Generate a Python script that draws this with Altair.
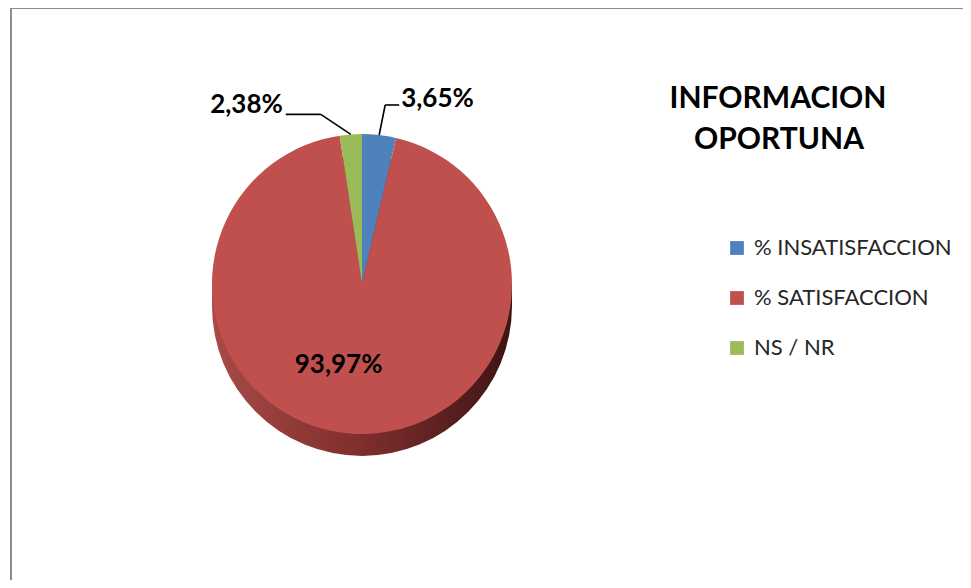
import altair as alt
import pandas as pd

# ---- data ----
categories = ["% INSATISFACCION", "% SATISFACCION", "NS / NR"]
values = [3.65, 93.97, 2.38]
labels = ["3,65%", "93,97%", "2,38%"]
slice_order = [0, 1, 2]
colors = ["#4F81BD", "#C0504D", "#9BBB59"]
title_lines = ["INFORMACION", "OPORTUNA"]

df = pd.DataFrame({"cat": categories, "val": values, "label": labels, "order": slice_order})
one = pd.DataFrame({"k": [0]})

W, H = 955, 572
CX, CY, R, DEPTH = 354, 276, 150, 22
FONT = "Lato"

theta_scale = alt.Scale(domain=[0, 100])

side_grad = alt.Gradient(
    gradient="linear",
    stops=[
        alt.GradientStop(color="#a84a48", offset=0),
        alt.GradientStop(color="#7d2e2d", offset=0.5),
        alt.GradientStop(color="#3f1414", offset=1),
    ],
    x1=0, x2=1, y1=0, y2=0,
)

# pie thickness (side)
side_rect = alt.Chart(one).mark_rect(fill=side_grad).encode(
    x=alt.value(CX - R), x2=alt.value(CX + R),
    y=alt.value(CY), y2=alt.value(CY + DEPTH),
)
side_disc = alt.Chart(one).mark_arc(fill=side_grad, radius=R, theta=0, theta2=6.2832).encode(
    x=alt.value(CX), y=alt.value(CY + DEPTH),
)

pie = alt.Chart(df).mark_arc(radius=R).encode(
    theta=alt.Theta("val:Q", stack=True, scale=theta_scale),
    order=alt.Order("order:Q"),
    color=alt.Color(
        "cat:N",
        scale=alt.Scale(domain=categories, range=colors),
        legend=alt.Legend(
            title=None, orient="none", legendX=718, legendY=229,
            symbolType="square", symbolSize=190, symbolStrokeWidth=0,
            labelFontSize=22, labelFont=FONT, labelColor="#262626",
            rowPadding=28, labelOffset=6, labelLimit=0,
        ),
    ),
    x=alt.value(CX), y=alt.value(CY),
)

# slice mid-angles and edge points computed from the data
base = alt.Chart(df).transform_window(
    cum="sum(val)", sort=[alt.SortField("order")], frame=[None, 0]
).transform_calculate(
    ang="(datum.cum - datum.val / 2) / 100 * 2 * PI",
).transform_calculate(
    ex=f"{CX} + {R} * sin(datum.ang)",
    ey=f"{CY} - {R} * cos(datum.ang)",
)

def leader(idx, kdx, kdy, hlen, lab_dx, lab_dy, align):
    b = base.transform_filter(alt.datum.order == idx).transform_calculate(
        kx=f"datum.ex + ({kdx})", ky=f"datum.ey + ({kdy})",
    ).transform_calculate(
        hx=f"datum.kx + ({hlen})",
    ).transform_calculate(
        tx=f"datum.hx + ({lab_dx})", ty=f"datum.ky + ({lab_dy})",
    )
    seg1 = b.mark_rule(color="#000000", strokeWidth=1.6).encode(
        x=alt.X("ex:Q", scale=None), y=alt.Y("ey:Q", scale=None),
        x2="kx:Q", y2="ky:Q",
    )
    seg2 = b.mark_rule(color="#000000", strokeWidth=1.6).encode(
        x=alt.X("kx:Q", scale=None), y=alt.Y("ky:Q", scale=None),
        x2="hx:Q", y2="ky:Q",
    )
    txt = b.mark_text(
        align=align, baseline="middle", font=FONT, fontSize=26,
        fontWeight="bold", color="#000000",
    ).encode(
        x=alt.X("tx:Q", scale=None), y=alt.Y("ty:Q", scale=None), text="label:N",
    )
    return [seg1, seg2, txt]

blue_parts = leader(0, 6, -30, 14, 2, -6, "left")
green_parts = leader(2, -30, -20, -35, -3, -9, "right")

lab_red = base.transform_filter(alt.datum.order == 1).transform_calculate(
    tx=f"{CX} + 85 * sin(datum.ang) - 20",
    ty=f"{CY} - 85 * cos(datum.ang) - 4",
).mark_text(
    align="center", baseline="middle",
    font=FONT, fontSize=26, fontWeight="bold", color="#000000",
).encode(
    x=alt.X("tx:Q", scale=None), y=alt.Y("ty:Q", scale=None), text="label:N",
)

title1 = alt.Chart(one).mark_text(
    text=title_lines[0], font=FONT, fontSize=30, fontWeight="bold", color="#000000",
    align="center", baseline="middle",
).encode(x=alt.value(770), y=alt.value(91))
title2 = alt.Chart(one).mark_text(
    text=title_lines[1], font=FONT, fontSize=30, fontWeight="bold", color="#000000",
    align="center", baseline="middle",
).encode(x=alt.value(771), y=alt.value(132))

border_top = alt.Chart(one).mark_rule(color="#8c8c8c", strokeWidth=2).encode(
    x=alt.value(2), x2=alt.value(W), y=alt.value(0)
)
border_left = alt.Chart(one).mark_rule(color="#8c8c8c", strokeWidth=2).encode(
    x=alt.value(3), y=alt.value(0), y2=alt.value(H)
)

chart = alt.layer(
    side_rect, side_disc, pie, *blue_parts, *green_parts, lab_red,
    title1, title2, border_top, border_left,
).properties(
    width=W, height=H, padding=0, autosize="none",
    background="#ffffff",
).configure_view(stroke=None)

chart.save("out.html", embed_options={"renderer": "svg", "actions": False})
